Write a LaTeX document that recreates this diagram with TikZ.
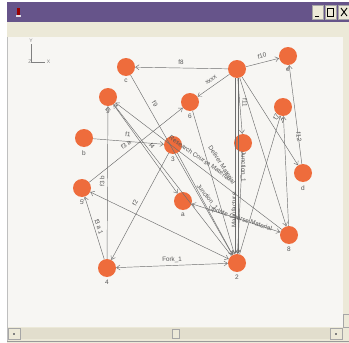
\documentclass[tikz,border=0pt]{standalone}
\usepackage{fontspec}
\setmainfont{Liberation Sans}
\usetikzlibrary{arrows.meta}
\definecolor{titlebar}{HTML}{66548A}
\definecolor{beige}{HTML}{ECE9D8}
\definecolor{trackc}{HTML}{E2DECD}
\definecolor{canvasbg}{HTML}{F7F6F3}
\definecolor{nodeor}{HTML}{EE6C3C}
\definecolor{edgegray}{HTML}{6E6E6E}
\definecolor{txtgray}{HTML}{555555}
\begin{document}
\begin{tikzpicture}[x=1pt,y=-1pt,
  vert/.style={circle,fill=nodeor,draw=none,minimum size=18pt,inner sep=0pt},
  nlbl/.style={font=\fontsize{6.5}{7}\selectfont,text=txtgray,inner sep=0.5pt},
  edge/.style={draw=edgegray,line width=0.45pt,-{Straight Barb[length=3.5pt,width=5pt]}},
  bi/.style={draw=edgegray,line width=0.45pt,{Straight Barb[length=3.5pt,width=5pt]}-{Straight Barb[length=3.5pt,width=5pt]}},
  elab/.style={font=\fontsize{6.3}{7}\selectfont,text=txtgray,inner sep=0pt},
  btn/.style={fill=beige,draw=gray!70,line width=0.4pt},
  label distance=2.5pt]
\useasboundingbox (0,0) rectangle (349,343);
\fill[white] (0,0) rectangle (349,343);
% window chrome
\fill[beige] (7,2) rectangle (349,343);
\fill[titlebar] (7,2) rectangle (349,22);
\fill[red!60!black] (17,8) rectangle (20,15);
\fill[white!80!titlebar] (16,15) rectangle (21,17);
\draw[btn] (312,5) rectangle (323,19);
\draw[btn] (325,5) rectangle (336,19);
\draw[btn] (338,5) rectangle (349,19);
\draw[black,line width=0.8pt] (315,16) -- (319,16);
\draw[black,line width=0.5pt] (327.5,8) rectangle (333.5,16);
\draw[black,line width=0.9pt] (341,8) -- (347,16) (341,16) -- (347,8);
\fill[canvasbg] (8,37) rectangle (343,327);
\draw[gray!50,line width=0.4pt] (7.5,37) -- (7.5,341);
% scrollbars
\fill[beige] (343,37) rectangle (349,327);
\draw[btn] (343,314) rectangle (349,327);
\fill[trackc] (20,328) rectangle (330,339);
\draw[btn] (8,328) rectangle (20,339);
\draw[btn] (330,328) rectangle (342,339);
\fill[gray] (13,333) rectangle (15,335);
\fill[gray] (335,333) rectangle (337,335);
\draw[btn] (172,329) rectangle (179,338);
\draw[gray!80,line width=0.6pt] (7,341) -- (349,341);
% axis gizmo
\draw[gray,line width=0.5pt] (31,44) -- (31,62) -- (45,62);
\node[font=\fontsize{5}{5}\selectfont,text=gray,inner sep=0pt] (ay) at (31,41) {Y};
\node[font=\fontsize{5}{5}\selectfont,text=gray,inner sep=0pt] (ax) at (48.5,62) {X};
\node[font=\fontsize{5}{5}\selectfont,text=gray,inner sep=0pt] (az) at (30,62) {Z};
% vertices
\node[vert,label={[nlbl]below:c}] (c) at (126,67) {};
\node[vert] (T) at (237,69) {};
\node[vert,label={[nlbl]below:e}] (e) at (288,56) {};
\node[vert,label={[nlbl]below:9}] (n9) at (108,97) {};
\node[vert,label={[nlbl]below:6}] (six) at (190,102) {};
\node[vert,label={[nlbl]below:b}] (b) at (84,138) {};
\node[vert,label={[nlbl]below:3}] (three) at (173,145) {};
\node[vert] (J) at (243,143) {};
\node[vert,label={[nlbl]below:7}] (seven) at (283,107) {};
\node[vert,label={[nlbl]below:d}] (d) at (303,173) {};
\node[vert,label={[nlbl]below:5}] (five) at (82,188) {};
\node[vert,label={[nlbl]below:a}] (a) at (183,201) {};
\node[vert,label={[nlbl]below:8}] (eight) at (289,235) {};
\node[vert,label={[nlbl]below:4}] (four) at (107,268) {};
\node[vert,label={[nlbl]below:2}] (two) at (237,263) {};
% edges
\draw[edge] (T) -- (c);
\draw[edge] (T) -- (e);
\draw[edge] (T) -- (six);
\draw[edge] (T) -- (J);
\draw[edge] ([xshift=-2pt]T.south) -- ([xshift=-2pt]two.north);
\draw[edge] ([xshift=1pt]T.south) -- ([xshift=1pt]two.north);
\draw[edge] (T) -- (d);
\draw[edge] (T) -- (eight);
\draw[edge] (d) -- (e);
\draw[edge] (two) -- (seven);
\draw[edge] (eight) -- (seven);
\draw[edge] (b) -- (three);
\draw[edge] (four) -- (n9);
\draw[edge] (four) -- (five);
\draw[edge] (three) -- (four);
\draw[edge] (five) -- (six);
\draw[edge] (n9) -- (a);
\draw[bi] (five) -- (two);
\draw[bi] (four) -- (two);
\draw[bi] (a) -- (eight);
\draw[edge] (eight) -- (n9);
\draw[edge] (two) -- (n9);
\draw[edge] (c) -- (two);
\draw[edge] (six) -- (two);
\draw[edge] (J) -- (two);
\draw[edge] (three) -- (two);
% edge labels
\node[elab] (l1) at (181,62) {f8};
\node[elab,rotate=14] (l2) at (262,56) {f10};
\node[elab,rotate=35] (l3) at (211,80) {xxxx};
\node[elab,rotate=-90] (l4) at (245,103) {f11};
\node[elab,rotate=-60] (l5) at (155,104) {f9};
\node[elab,rotate=-83] (l6) at (299,137) {f12};
\node[elab,rotate=60] (l7) at (276,117) {f7};
\node[elab,rotate=-5] (l8) at (128,134) {f1};
\node[elab,rotate=35] (l9) at (126,145) {f3 a};
\node[elab,rotate=-50] (l10) at (152,146) {f4};
\node[elab,rotate=90] (l11) at (102,181) {f3 b};
\node[elab,rotate=-72] (l12) at (99,227) {f3 a 1};
\node[elab,rotate=62] (l13) at (135,203) {f2};
\node[elab,rotate=2] (l14) at (172,260) {Fork\_1};
\node[elab,rotate=-35] (l15) at (200,158) {Research Course Material};
\node[elab,rotate=-57] (l16) at (222,165) {Deliver Material};
\node[elab,rotate=-90] (l17) at (243,167) {Junction\_1};
\node[elab,rotate=90] (l18) at (234,210) {Manufacture};
\node[elab,rotate=-52] (l19) at (207,197) {Junction\_1};
\node[elab,rotate=-18] (l20) at (240,219) {Update Course Material};
\end{tikzpicture}
\end{document}
